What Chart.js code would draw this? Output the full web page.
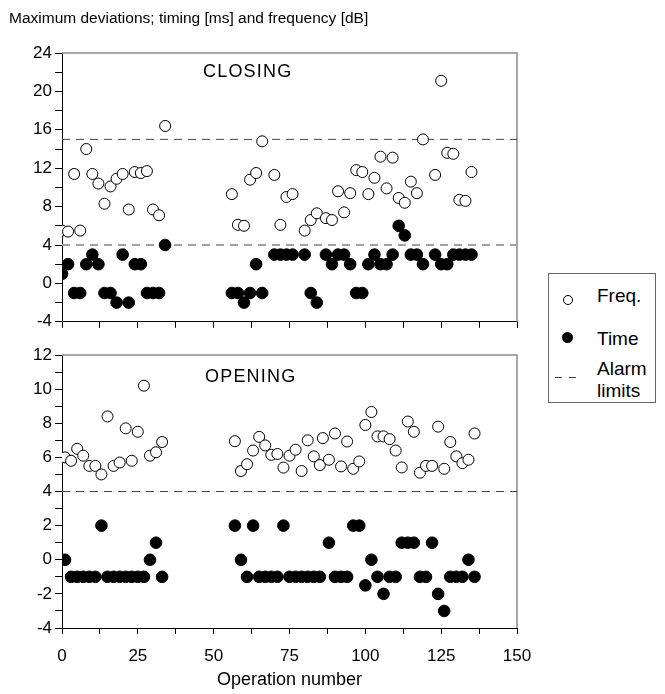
<!DOCTYPE html>
<html>
<head>
<meta charset="utf-8">
<script src="https://cdn.jsdelivr.net/npm/chart.js@4.4.1/dist/chart.umd.min.js"></script>
<style>
    body { margin: 0; background: #fff; font-family: "Liberation Sans", Arial, sans-serif; color: #000; }
    #wrap { position: relative; width: 665px; height: 694px; overflow: hidden; }
    #topBox { position: absolute; left: 0; top: 0; width: 665px; height: 335px; }
    #botBox { position: absolute; left: 0; top: 335px; width: 665px; height: 359px; }
    .txt { position: absolute; white-space: nowrap; }
    .chart-title { left: 9px; top: 10px; font-size: 15.5px; line-height: 16px; }
    .panel-label { font-size: 18px; line-height: 18px; letter-spacing: 1.2px; }
    .legend { position: absolute; left: 548px; top: 273px; width: 106px; height: 128px; border: 1px solid #666; background: #fff; }
    .legend .lbl { position: absolute; left: 48px; font-size: 19px; line-height: 19px; }
    .legend .open { position: absolute; left: 14px; top: 21px; width: 8px; height: 8px; border: 1px solid #000; border-radius: 50%; }
    .legend .filled { position: absolute; left: 13px; top: 58px; width: 11px; height: 11px; background: #000; border-radius: 50%; }
    .legend .dash { position: absolute; top: 103px; width: 7px; border-top: 1px solid #444; }
</style>
</head>
<body>
<div id="wrap">
    <div id="topBox"><canvas id="closingChart"></canvas></div>
    <div id="botBox"><canvas id="openingChart"></canvas></div>
    <div class="txt chart-title">Maximum deviations; timing [ms] and frequency [dB]</div>
    <div class="txt panel-label" style="left:203px; top:62px;">CLOSING</div>
    <div class="txt panel-label" style="left:205px; top:367px;">OPENING</div>
    <div class="legend">
        <span class="open"></span><span class="lbl" style="top:12px;">Freq.</span>
        <span class="filled"></span><span class="lbl" style="top:55px;">Time</span>
        <span class="dash" style="left:6px;"></span><span class="dash" style="left:20px;"></span>
        <span class="lbl" style="top:85px;">Alarm</span>
        <span class="lbl" style="top:107px;">limits</span>
    </div>
</div>
<script>
// Closing operations (upper panel)
const closingOps = [0, 2, 4, 6, 8, 10, 12, 14, 16, 18, 20, 22, 24, 26, 28, 30, 32, 34,
    56, 58, 60, 62, 64, 66, 70, 72, 74, 76, 80, 82, 84,
    87, 89, 91, 93, 95, 97, 99, 101, 103, 105, 107, 109, 111, 113, 115, 117, 119,
    123, 125, 127, 129, 131, 133, 135];
const closingFreq = [5.5, 5.4, 11.4, 5.5, 14.0, 11.4, 10.4, 8.3, 10.1, 10.9, 11.4, 7.7, 11.6, 11.5, 11.7, 7.7, 7.1, 16.4,
    9.3, 6.1, 6.0, 10.8, 11.5, 14.8, 11.3, 6.1, 9.0, 9.3, 5.5, 6.6, 7.3,
    6.8, 6.6, 9.6, 7.4, 9.4, 11.8, 11.6, 9.3, 11.0, 13.2, 9.9, 13.1, 8.9, 8.4, 10.6, 9.4, 15.0,
    11.3, 21.1, 13.6, 13.5, 8.7, 8.6, 11.6];
const closingTime = [1, 2, -1, -1, 2, 3, 2, -1, -1, -2, 3, -2, 2, 2, -1, -1, -1, 4,
    -1, -1, -2, -1, 2, -1, 3, 3, 3, 3, 3, -1, -2,
    3, 2, 3, 3, 2, -1, -1, 2, 3, 2, 2, 3, 6, 5, 3, 3, 2,
    3, 2, 2, 3, 3, 3, 3];
const closingLimits = [15, 4];

// Opening operations (lower panel)
const openingFreqOps = [1, 3, 5, 7, 9, 11, 13, 15, 17, 19, 21, 23, 25, 27, 29, 31, 33,
    57, 59, 61, 63, 65, 67, 69, 71, 73, 75, 77, 79, 81, 83, 85, 86,
    88, 90, 92, 94, 96, 98, 100, 102, 104, 106, 108, 110, 112, 114, 116, 118,
    120, 122, 124, 126, 128, 130, 132, 134, 136];
const openingFreq = [6.0, 5.8, 6.5, 6.1, 5.5, 5.5, 5.0, 8.4, 5.5, 5.7, 7.7, 5.8, 7.5, 10.2, 6.1, 6.3, 6.9,
    6.95, 5.2, 5.6, 6.4, 7.2, 6.7, 6.15, 6.2, 5.4, 6.1, 6.45, 5.2, 7.0, 6.06, 5.55, 7.13,
    5.86, 7.4, 5.47, 6.93, 5.33, 5.76, 7.9, 8.66, 7.23, 7.23, 7.07, 6.4, 5.41, 8.1, 7.5, 5.1,
    5.5, 5.5, 7.8, 5.33, 6.9, 6.06, 5.66, 5.86, 7.4];
const openingTimeOps = [1, 3, 5, 7, 9, 11, 13, 15, 17, 19, 21, 23, 25, 27, 29, 31, 33,
    57, 59, 61, 63, 65, 67, 69, 71, 73, 75, 77, 79, 81, 83, 85,
    88, 90, 92, 94, 96, 98, 100, 102, 104, 106, 108, 110, 112, 114, 116, 118,
    120, 122, 124, 126, 128, 130, 132, 134, 136];
const openingTime = [0, -1, -1, -1, -1, -1, 2, -1, -1, -1, -1, -1, -1, -1, 0, 1, -1,
    2, 0, -1, 2, -1, -1, -1, -1, 2, -1, -1, -1, -1, -1, -1,
    1, -1, -1, -1, 2, 2, -1.5, 0, -1, -2, -1, -1, 1, 1, 1, -1,
    -1, 1, -2, -3, -1, -1, -1, 0, -1];
const openingLimits = [4];

// Axis ticks
const xMajorTicks = [0, 25, 50, 75, 100, 125, 150];
const closingYRange = [-4, 24];
const openingYRange = [-4, 12];

const FONT = '"Liberation Sans", Arial, sans-serif';

function toPoints(xs, ys) {
    return xs.map((x, i) => ({ x: x, y: ys[i] }));
}

// major ticks every 25, minor ticks halfway between
function xTickValues() {
    const vals = [];
    xMajorTicks.forEach((v, i) => {
        vals.push(v);
        if (i < xMajorTicks.length - 1) vals.push((v + xMajorTicks[i + 1]) / 2);
    });
    return vals;
}

/**
 * Grey frame along the top and right edge of the plot
 */
const framePlugin = {
    id: 'frame',
    beforeDatasetsDraw(chart) {
        const { ctx, chartArea: a } = chart;
        ctx.save();
        ctx.strokeStyle = '#8a8a8a';
        ctx.lineWidth = 1.5;
        ctx.beginPath();
        ctx.moveTo(a.left, a.top);
        ctx.lineTo(a.right, a.top);
        ctx.lineTo(a.right, a.bottom);
        ctx.stroke();
        ctx.restore();
    }
};

function limitDatasets(limits, styles) {
    return limits.map((v, i) => ({
        type: 'line',
        data: [{ x: xMajorTicks[0], y: v }, { x: xMajorTicks[xMajorTicks.length - 1], y: v }],
        borderColor: styles[i].color,
        borderWidth: styles[i].width,
        borderDash: [8, 6],
        pointRadius: 0,
        fill: false,
        order: 5
    }));
}

function buildChart(canvasId, cfg) {
    return new Chart(document.getElementById(canvasId), {
        type: 'scatter',
        data: {
            datasets: [
                {
                    label: 'Freq.',
                    data: cfg.freq,
                    pointStyle: 'circle',
                    pointRadius: 5.5,
                    pointBackgroundColor: '#fff',
                    pointBorderColor: '#000',
                    pointBorderWidth: 1,
                    order: 1
                },
                {
                    label: 'Time',
                    data: cfg.time,
                    pointStyle: 'circle',
                    pointRadius: 5.8,
                    pointBackgroundColor: '#000',
                    pointBorderColor: '#000',
                    pointBorderWidth: 1,
                    order: 0
                },
                ...cfg.limits
            ]
        },
        options: {
            responsive: true,
            maintainAspectRatio: false,
            animation: false,
            layout: { padding: { top: cfg.padTop, right: 148, left: 0, bottom: 0 } },
            plugins: {
                legend: { display: false },
                tooltip: { enabled: false }
            },
            scales: {
                x: {
                    type: 'linear',
                    min: xMajorTicks[0],
                    max: xMajorTicks[xMajorTicks.length - 1],
                    afterBuildTicks: (scale) => {
                        scale.ticks = xTickValues().map(v => ({ value: v }));
                    },
                    afterFit: (scale) => { scale.height = cfg.xHeight; },
                    ticks: {
                        display: cfg.showXLabels,
                        autoSkip: false,
                        maxRotation: 0,
                        padding: 12,
                        color: '#000',
                        font: { family: FONT, size: 17 },
                        callback: (v) => (v % 25 === 0 ? v : '')
                    },
                    grid: { drawOnChartArea: false, drawTicks: true, tickLength: 6, color: '#000' },
                    border: { color: '#000', width: 1 },
                    title: {
                        display: cfg.showXLabels,
                        text: 'Operation number',
                        color: '#000',
                        font: { family: FONT, size: 18 },
                        padding: { top: 0, bottom: 3 }
                    }
                },
                y: {
                    min: cfg.yRange[0],
                    max: cfg.yRange[1],
                    afterFit: (scale) => { scale.width = 62; },
                    ticks: {
                        stepSize: cfg.yStep,
                        autoSkip: false,
                        padding: 3,
                        color: '#000',
                        font: { family: FONT, size: 17 },
                        callback: (v) => (v % cfg.yLabelEvery === 0 ? v : '')
                    },
                    grid: { drawOnChartArea: false, drawTicks: true, tickLength: 7, color: '#000' },
                    border: { color: '#000', width: 1 }
                }
            }
        },
        plugins: [framePlugin]
    });
}

buildChart('closingChart', {
    freq: toPoints(closingOps, closingFreq),
    time: toPoints(closingOps, closingTime),
    limits: limitDatasets(closingLimits, [{ color: '#444', width: 1 }, { color: '#a0a0a0', width: 2 }]),
    yRange: closingYRange,
    yStep: 2,
    yLabelEvery: 4,
    padTop: 53,
    xHeight: 10,
    showXLabels: false
});

buildChart('openingChart', {
    freq: toPoints(openingFreqOps, openingFreq),
    time: toPoints(openingTimeOps, openingTime),
    limits: limitDatasets(openingLimits, [{ color: '#444', width: 1 }]),
    yRange: openingYRange,
    yStep: 1,
    yLabelEvery: 2,
    padTop: 20,
    xHeight: 66,
    showXLabels: true
});
</script>
</body>
</html>
